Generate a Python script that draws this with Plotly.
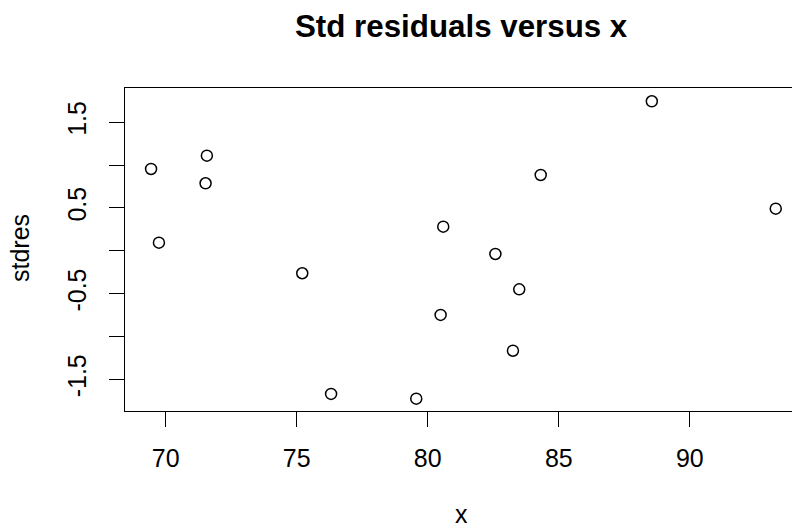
import plotly.graph_objects as go

# Data
x_vals = [69.44, 69.74, 71.57, 71.52, 75.21, 76.31, 79.56, 80.59, 80.49,
          82.58, 83.49, 83.25, 84.31, 88.55, 93.28]
stdres = [0.955, 0.096, 1.110, 0.788, -0.261, -1.668, -1.723, 0.282, -0.747,
          -0.036, -0.448, -1.164, 0.885, 1.744, 0.492]

x_ticks = [70, 75, 80, 85, 90]
y_ticks = [-1.5, -1.0, -0.5, 0.0, 0.5, 1.0, 1.5]
y_ticktext = ["-1.5", "", "-0.5", "", "0.5", "", "1.5"]

W, H = 792, 531
L, T, B = 125, 88, 120
PW, PH = W - L, H - T - B

def px_x(p):
    return (p - L) / PW

def px_y(p):
    return (H - B - p) / PH

FONT = "Liberation Sans, Arial, sans-serif"

fig = go.Figure()
fig.add_trace(go.Scatter(
    x=x_vals, y=stdres, mode="markers",
    marker=dict(symbol="circle-open", size=11, color="black",
                line=dict(width=1.5, color="black")),
    showlegend=False, hoverinfo="skip"))

fig.update_layout(
    width=W, height=H,
    margin=dict(l=L, r=0, t=T, b=B, pad=0),
    paper_bgcolor="white", plot_bgcolor="white",
    font=dict(family=FONT, color="black"),
    xaxis=dict(range=[68.445, 93.90], tickvals=x_ticks,
               ticktext=[str(v) for v in x_ticks],
               ticks="outside", ticklen=15, tickwidth=1.2, tickcolor="black",
               showline=True, linecolor="black", linewidth=1.2, mirror=True,
               showgrid=False, zeroline=False,
               tickfont=dict(size=25, family=FONT, color="black"),
               ticklabelstandoff=10),
    yaxis=dict(range=[-1.867, 1.899], tickvals=y_ticks, ticktext=y_ticktext,
               ticks="outside", ticklen=15, tickwidth=1.2, tickcolor="black",
               showline=True, linecolor="black", linewidth=1.2, mirror=False,
               showgrid=False, zeroline=False, tickangle=-90,
               tickfont=dict(size=25, family=FONT, color="black"),
               ticklabelstandoff=13),
    annotations=[
        dict(text="<b>Std residuals versus x</b>", xref="paper", yref="paper",
             x=px_x(461.5), y=px_y(26), xanchor="center", yanchor="middle",
             showarrow=False, font=dict(size=31.3, family=FONT, color="black")),
        dict(text="x", xref="paper", yref="paper",
             x=px_x(461.5), y=px_y(530), xanchor="center", yanchor="bottom",
             showarrow=False, font=dict(size=25, family=FONT, color="black")),
        dict(text="stdres", xref="paper", yref="paper",
             x=px_x(20), y=px_y(248), xanchor="center", yanchor="middle",
             textangle=-90, showarrow=False,
             font=dict(size=25, family=FONT, color="black")),
    ],
)

fig.write_html("out.html")
